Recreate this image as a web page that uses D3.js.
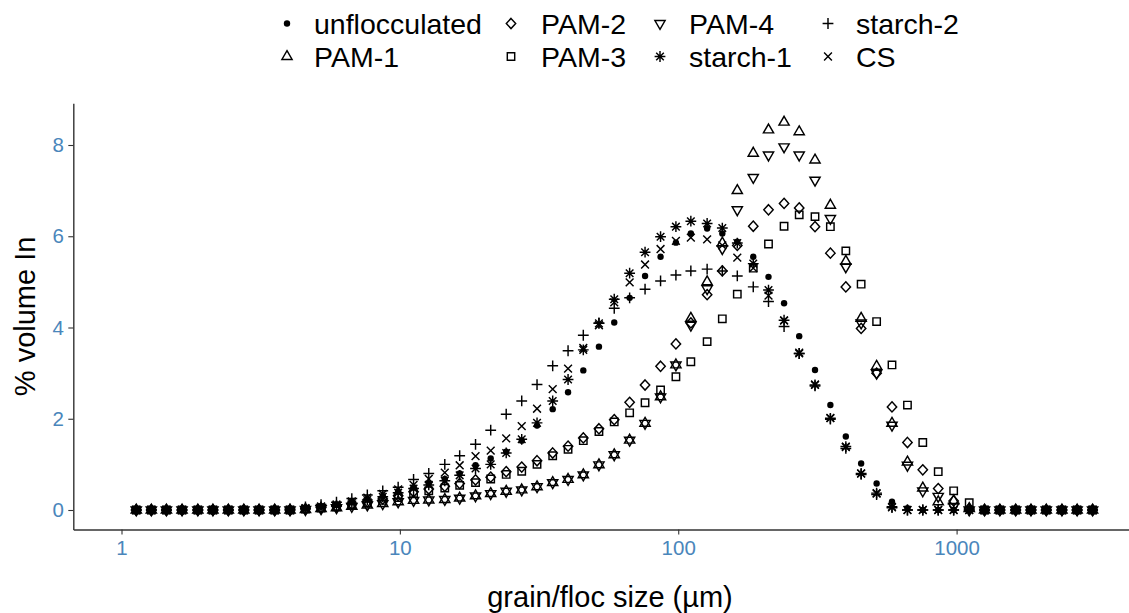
<!DOCTYPE html>
<html><head><meta charset="utf-8">
<script src="https://cdn.jsdelivr.net/npm/d3@7"></script>
<style>
html,body{margin:0;padding:0;background:#fff;}
svg{display:block;font-family:"Liberation Sans",Arial,Helvetica,sans-serif;}
</style></head><body>
<svg id="chart" width="1129" height="613"></svg>
<script>
// grain / floc size classes (µm)
const sizes = [1.13,1.28,1.45,1.65,1.88,2.13,2.42,2.75,3.12,3.55,4.03,4.58,5.21,5.92,6.72,7.64,8.68,9.86,11.2,12.7,14.5,16.4,18.7,21.2,24.1,27.4,31.1,35.4,40.2,45.6,51.9,58.9,66.9,76.0,86.4,98.1,111,127,144,163,186,211,240,272,310,352,400,454,516,586,666,756,859,976,1110,1260,1430,1630,1850,2100,2390,2710,3080];

const unflocculated = [0,0,0,0,0,0,0,0,0,0, 0,0.03,0.07,0.11,0.17,0.24,0.31,0.40, 0.50,0.58,0.68,0.80,0.98,1.13,1.28,1.52,1.85,2.21,2.58,3.06,3.58,4.11,4.65,5.13,5.55,5.86,6.06,6.17,6.06,5.88,5.55,5.11,4.53,3.81,3.07,2.30,1.61,1.02,0.58,0.18,0.04, 0,0,0,0,0,0,0,0,0,0,0,0];
const pam1 = [0,0,0,0,0,0,0,0,0,0, 0,0.01,0.03,0.05,0.08,0.11,0.14,0.18, 0.21,0.22,0.23,0.26,0.31,0.36,0.41,0.44,0.51,0.60,0.67,0.77,0.99,1.21,1.53,1.90,2.48,3.18,4.20,5.00,5.85,7.00,7.82,8.33,8.50,8.29,7.67,6.68,5.45,4.20,3.15,1.90,1.05,0.48,0.18,0.20,0.03, 0,0,0,0,0,0,0,0];
const pam2 = [0,0,0,0,0,0,0,0,0,0, 0,0.02,0.05,0.08,0.13,0.18,0.24,0.31, 0.40,0.46,0.52,0.58,0.66,0.72,0.84,0.94,1.08,1.25,1.40,1.58,1.78,1.98,2.36,2.74,3.15,3.64,4.10,4.72,5.24,5.80,6.22,6.58,6.72,6.62,6.21,5.63,4.89,3.98,3.00,2.26,1.48,0.88,0.47,0.20,0.03, 0,0,0,0,0,0,0,0];
const pam3 = [0,0,0,0,0,0,0,0,0,0, 0,0.02,0.04,0.07,0.11,0.16,0.21,0.27, 0.36,0.42,0.48,0.54,0.60,0.68,0.78,0.85,1.00,1.19,1.33,1.52,1.72,1.93,2.13,2.35,2.63,2.92,3.25,3.69,4.19,4.73,5.30,5.83,6.22,6.47,6.43,6.21,5.68,4.95,4.13,3.18,2.30,1.48,0.84,0.42,0.16, 0,0,0,0,0,0,0,0];
const pam4 = [0,0,0,0,0,0,0,0,0,0, 0,0.01,0.03,0.05,0.08,0.11,0.14,0.18, 0.21,0.22,0.23,0.26,0.31,0.36,0.41,0.44,0.51,0.60,0.67,0.77,0.99,1.21,1.53,1.90,2.48,3.18,4.05,4.85,5.73,6.58,7.29,7.78,7.96,7.78,7.23,6.39,5.33,4.10,3.00,1.86,0.98,0.42,0.30,0.08,0, 0,0,0,0,0,0,0,0];
const starch1 = [0,0,0,0,0,0,0,0,0,0, 0,0.03,0.06,0.10,0.15,0.22,0.29,0.38, 0.47,0.55,0.64,0.76,0.91,1.00,1.25,1.55,1.91,2.39,2.86,3.51,4.09,4.62,5.19,5.65,5.99,6.21,6.33,6.28,6.18,5.85,5.40,4.82,4.16,3.43,2.74,2.01,1.39,0.80,0.37,0.07, 0,0,0,0,0,0,0,0,0,0,0,0,0];
const starch2 = [0,0,0,0,0,0,0,0,0,0, 0.02,0.07,0.12,0.17,0.25,0.33,0.42,0.50, 0.67,0.80,1.00,1.19,1.44,1.75,2.10,2.39,2.75,3.16,3.49,3.83,4.10,4.42,4.65,4.84,5.02,5.15,5.24,5.28,5.24,5.13,4.89,4.57,4.02,3.43,2.72,1.99,1.35,0.78,0.34,0.05, 0,0,0,0,0,0,0,0,0,0,0,0,0];
const cs = [0,0,0,0,0,0,0,0,0,0, 0,0.04,0.08,0.12,0.19,0.27,0.35,0.45, 0.55,0.68,0.82,0.98,1.18,1.30,1.57,1.84,2.22,2.65,3.10,3.55,4.05,4.55,4.99,5.38,5.72,5.90,5.97,5.93,5.80,5.53,5.30,4.70,4.15,3.45,2.75,2.02,1.38,0.80,0.36,0.06, 0,0,0,0,0,0,0,0,0,0,0,0,0];

const seriesNames = ["unflocculated","PAM-1","PAM-2","PAM-3","PAM-4","starch-1","starch-2","CS"];
const seriesValues = [unflocculated,pam1,pam2,pam3,pam4,starch1,starch2,cs];
const seriesShapes = ["circle","triUp","diamond","square","triDown","asterisk","plus","times"];
const xTicks = [1,10,100,1000];
const yTicks = [0,2,4,6,8];
const xTitle = "grain/floc size (µm)";
const yTitle = "% volume In";

const svg = d3.select("#chart");
const panel = {left:73.3, right:1160, top:103.3, bottom:529.5};

const xCal = d3.scaleLog().domain([1,1000]).range([121.5,956.6]);
const x = d3.scaleLog().domain([xCal.invert(panel.left), xCal.invert(panel.right)]).range([panel.left, panel.right]);
const yCal = d3.scaleLinear().domain([0,8]).range([510,145]);
const y = d3.scaleLinear().domain([yCal.invert(panel.bottom), yCal.invert(panel.top)]).range([panel.bottom, panel.top]);

function shapePath(t){
  switch(t){
    case "triUp": return "M0,-5.9L5.1,2.95L-5.1,2.95Z";
    case "triDown": return "M0,5.9L5.1,-2.95L-5.1,-2.95Z";
    case "diamond": return "M0,-5.1L4.7,0L0,5.1L-4.7,0Z";
    case "square": return "M-3.7,-3.7H3.7V3.7H-3.7Z";
    case "plus": return "M-5.4,0H5.4M0,-5.4V5.4";
    case "times": return "M-3.9,-3.9L3.9,3.9M-3.9,3.9L3.9,-3.9";
    case "asterisk": return "M-5.4,0H5.4M0,-5.4V5.4M-3.8,-3.8L3.8,3.8M-3.8,3.8L3.8,-3.8";
  }
  return "";
}
function drawMarker(g, t){
  if(t==="circle"){
    g.append("circle").attr("r",3.2).attr("fill","#000");
  } else {
    g.append("path").attr("d",shapePath(t)).attr("fill","none").attr("stroke","#000").attr("stroke-width",1.45);
  }
}

// axes
const axisColor = "#333";
const tickTextColor = "#4a86bb";
const gx = svg.append("g").attr("transform",`translate(0,${panel.bottom})`)
  .call(d3.axisBottom(x).tickValues(xTicks).tickFormat(d3.format("d")).tickSize(5).tickSizeOuter(0).tickPadding(6));
const gy = svg.append("g").attr("transform",`translate(${panel.left},0)`)
  .call(d3.axisLeft(y).tickValues(yTicks).tickFormat(d3.format("d")).tickSize(5).tickSizeOuter(0).tickPadding(4.5));
[gx,gy].forEach(g=>{
  g.select(".domain").attr("stroke",axisColor).attr("stroke-width",1.4);
  g.selectAll(".tick line").attr("stroke",axisColor).attr("stroke-width",1.1);
  g.selectAll(".tick text").attr("fill",tickTextColor).style("font-size","20.5px")
    .style("font-family",'"Liberation Sans",Arial,sans-serif');
});

// points
const pts = svg.append("g");
seriesValues.forEach((vals,si)=>{
  const g = pts.append("g");
  vals.forEach((v,i)=>{
    const m = g.append("g").attr("transform",`translate(${x(sizes[i])},${y(v)})`);
    drawMarker(m, seriesShapes[si]);
  });
});

// titles
svg.append("text").attr("x",610).attr("y",607).attr("text-anchor","middle")
  .style("font-size","29px").attr("fill","#000").text(xTitle);
svg.append("text").attr("transform",`translate(34.5,${(panel.top+panel.bottom)/2}) rotate(-90)`)
  .attr("text-anchor","middle").style("font-size","29px").attr("fill","#000").text(yTitle);

// legend (2 rows, filled by column)
const legSymX = [287,511,660,828];
const legTextX = [314,541,689,856];
const legRowY = [23.5,56.5];
const leg = svg.append("g");
seriesNames.forEach((name,i)=>{
  const c = Math.floor(i/2), r = i%2;
  const m = leg.append("g").attr("transform",`translate(${legSymX[c]},${legRowY[r]})`);
  drawMarker(m, seriesShapes[i]);
  leg.append("text").attr("x",legTextX[c]).attr("y",legRowY[r]+10.2)
    .style("font-size","28.5px").attr("fill","#000").text(name);
});
</script>
</body></html>
